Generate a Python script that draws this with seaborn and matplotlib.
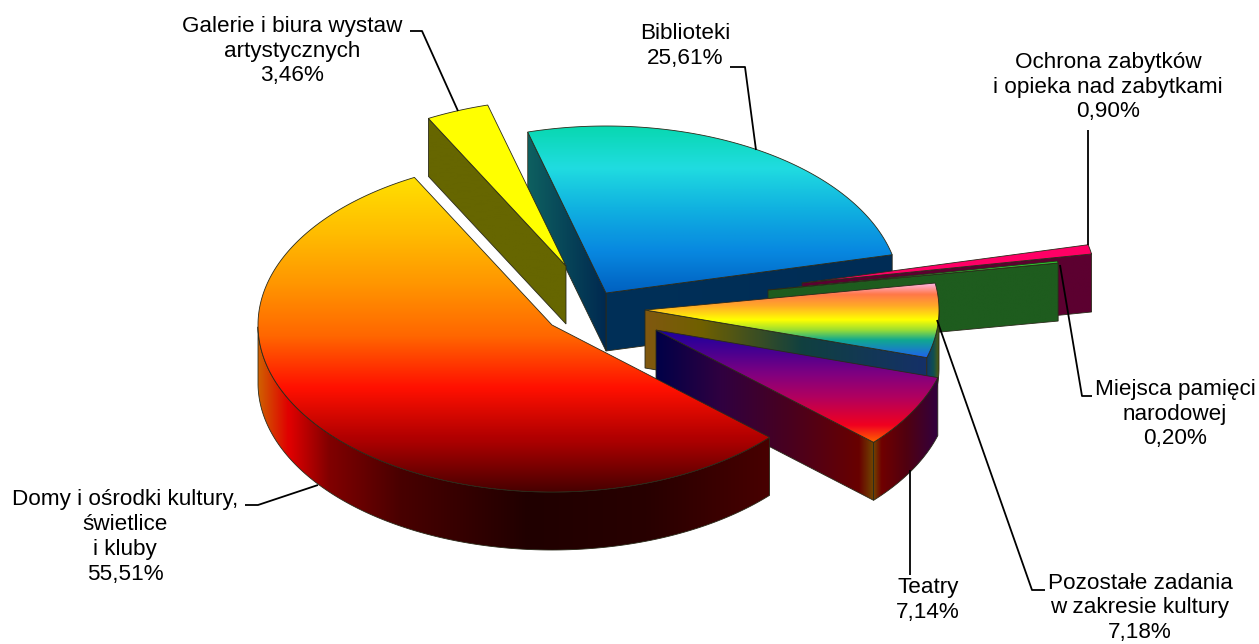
import numpy as np
import matplotlib
matplotlib.use("Agg")
import matplotlib.pyplot as plt
from matplotlib.patches import Polygon
from matplotlib.colors import ListedColormap
import seaborn as sns

# ---- data ----
categories = ["Domy i ośrodki kultury,\nświetlice\ni kluby", "Galerie i biura wystaw\nartystycznych",
              "Biblioteki", "Ochrona zabytków\ni opieka nad zabytkami", "Miejsca pamięci\nnarodowej",
              "Pozostałe zadania\nw zakresie kultury", "Teatry"]
values = [55.51, 3.46, 25.61, 0.90, 0.20, 7.18, 7.14]
value_labels = ["55,51%", "3,46%", "25,61%", "0,90%", "0,20%", "7,18%", "7,14%"]

# ---- layout ----
start_angle = 117.9
rx, ry, depth = 294, 167, 58
apex = [(552, 325), (566, 266), (606, 293), (802, 283), (768, 290), (645, 310), (656, 330)]
draw_order = [2, 1, 3, 4, 5, 6, 0]
label_xy = [(125, 537), (292, 51), (685, 46), (1108, 87), (1175, 414), (1140, 608), (928, 600)]
leaders = [[(245, 505), (258, 505), (318, 485)],
           [(410, 31), (422, 31), (458, 111)],
           [(730, 67), (745, 67), (756, 150)],
           [(1088, 130), (1088, 245)],
           [(1092, 396), (1082, 396), (1060, 265)],
           [(1045, 590), (1032, 590), (937, 320)],
           [(910, 575), (910, 470)]]

top_grad = [
    [(0, "#FFE000"), (.17, "#FFBE00"), (.33, "#FF9800"), (.50, "#FF6800"), (.67, "#FF1000"), (.83, "#B00000"), (1, "#480000")],
    [(0, "#FFFF00"), (1, "#FFFF00")],
    [(0, "#08D8B0"), (.25, "#20DCE0"), (.5, "#10B0E0"), (.75, "#0888E0"), (1, "#0060C0")],
    [(0, "#FF0066"), (1, "#FF0066")],
    [(0, "#30C030"), (1, "#30C030")],
    [(0, "#FFB8E8"), (.15, "#FF7848"), (.30, "#FFA828"), (.49, "#FFFF00"), (.62, "#A0E030"), (.76, "#10A890"), (1, "#2060F0")],
    [(0, "#1800A0"), (.2, "#480090"), (.4, "#800080"), (.6, "#B00060"), (.85, "#F00020"), (1, "#FF6000")],
]
arc_grad = [
    [(0, "#D06000"), (.06, "#E00000"), (.14, "#800000"), (.28, "#480000"), (.53, "#200000"), (.76, "#280000"), (1, "#480000")],
    None, None, None, None,
    [(0, "#103868"), (.5, "#105050"), (1, "#606000")],
    [(0, "#704000"), (.12, "#700000"), (.5, "#500010"), (1, "#300040")],
]
edge_grad = [
    None,
    [(0, "#666600"), (1, "#666600")],
    [(0, "#0E6060"), (1, "#002850")],
    [(0, "#5C0030"), (1, "#5C0030")],
    [(0, "#1E5C1E"), (1, "#1E5C1E")],
    [(0, "#805810"), (.2, "#706000"), (.38, "#405020"), (.56, "#104040"), (1, "#153068")],
    [(0, "#000048"), (.3, "#300040"), (.6, "#480020"), (.93, "#680000"), (1, "#704800")],
]
front_edge_flat = {2: [(0, "#003058"), (1, "#002C55")]}

sns.set_theme(style="white")
plt.rcParams["font.family"] = ["Liberation Sans", "DejaVu Sans"]

fig = plt.figure(figsize=(12.59, 6.44), dpi=100, facecolor="white")
ax = fig.add_axes([0, 0, 1, 1])
ax.set_axis_off()


def make_cmap(stops):
    cols = []
    for (p0, c0), (p1, c1) in zip(stops[:-1], stops[1:]):
        n = max(2, int(round((p1 - p0) * 512)))
        cols.extend(sns.blend_palette([c0, c1], n_colors=n))
    return ListedColormap(cols)


z = [10]


def paint(pts, stops, horizontal):
    pts = np.asarray(pts)
    z[0] += 1
    x0, y0 = pts.min(axis=0)
    x1, y1 = pts.max(axis=0)
    ramp = np.linspace(0, 1, 512)
    img = ramp[None, :] if horizontal else ramp[:, None]
    im = ax.imshow(img, cmap=make_cmap(stops), vmin=0, vmax=1, extent=(x0, x1, y1, y0),
                   origin="upper" if not horizontal else "lower", aspect="auto",
                   zorder=z[0], interpolation="bilinear")
    patch = Polygon(pts, closed=True, facecolor="none", edgecolor="#2a2a1a", lw=0.6, zorder=z[0] + 0.5)
    ax.add_patch(patch)
    im.set_clip_path(patch)


def edge_dir(t):
    return np.array([rx * np.cos(t), -ry * np.sin(t)])


fracs = np.array(values) / sum(values) * 360

for i in draw_order:
    # slices after the first run clockwise from start_angle; the first slice closes the circle
    hi = start_angle - fracs[1:i].sum() if i else start_angle + fracs[0]
    lo = hi - fracs[i]
    tt = np.radians(np.linspace(lo, hi, 240))
    a = np.array(apex[i], float)
    arc = a + np.c_[rx * np.cos(tt), -ry * np.sin(tt)]
    down = np.array([0, depth])
    tm = np.radians((lo + hi) / 2)
    m = edge_dir(tm)
    for t_deg in (lo, hi):
        t = np.radians(t_deg)
        d = edge_dir(t)
        if abs(d[0]) > 1e-6 and m[1] < d[1] / d[0] * m[0]:
            p = a + d
            stops = front_edge_flat.get(i) if (i in front_edge_flat and t_deg == lo) else edge_grad[i]
            if stops is not None:
                paint([a, p, p + down, a + down], stops, True)
    front = np.sin(tt) <= 0
    if front.any() and arc_grad[i] is not None:
        seg = arc[front]
        paint(np.r_[seg, (seg + down)[::-1]], arc_grad[i], True)
    paint(np.r_[[a], arc], top_grad[i], False)

for pts in leaders:
    pts = np.array(pts)
    ax.plot(pts[:, 0], pts[:, 1], color="black", lw=1.3, zorder=200, solid_capstyle="butt")

for name, val, (x, y) in zip(categories, value_labels, label_xy):
    ax.text(x, y, f"{name}\n{val}", ha="center", va="center", fontsize=16.2, color="black",
            linespacing=1.23, zorder=210)

ax.set_xlim(0, 1259)
ax.set_ylim(644, 0)
sns.despine(ax=ax, left=True, bottom=True)
fig.savefig("out.png", dpi=100, facecolor="white")
